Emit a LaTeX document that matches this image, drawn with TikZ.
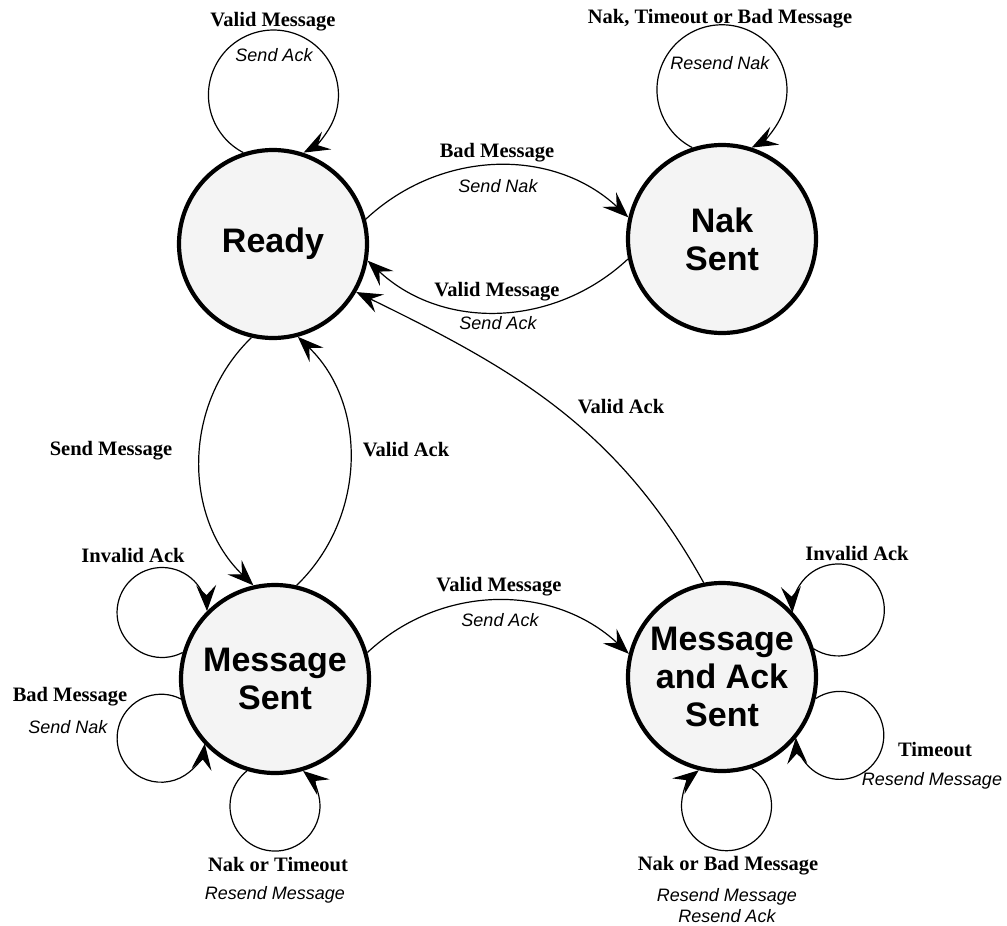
\documentclass[tikz,border=0pt]{standalone}
\usepackage{fontspec}
\setmainfont{Liberation Serif}
\setsansfont{Liberation Sans}
\usetikzlibrary{arrows.meta}
\tikzset{
  state/.style={circle, draw=black, line width=4.2pt, fill=gray!9, minimum size=188pt,
    inner sep=0pt, align=center, font=\sffamily\bfseries\fontsize{34}{38}\selectfont},
  edge/.style={draw=black, line width=1.2pt},
  tipped/.style={-{Stealth[length=26pt,width=20pt,inset=10pt]}},
  lbl/.style={font=\rmfamily\bfseries\fontsize{20.5}{23}\selectfont, inner sep=0pt},
  act/.style={font=\sffamily\itshape\fontsize{18}{21}\selectfont, inner sep=0pt, align=center}
}
\begin{document}
\begin{tikzpicture}[x=1pt,y=1pt]
\useasboundingbox (0,0) rectangle (1007,-926);
\fill[white] (0,0) rectangle (1007,-926);

% states
\node[state] (ready) at (273,-244) {Ready};
\node[state] (nak) at (722,-239) {Nak\\Sent};
\node[state] (ms) at (275,-679) {Message\\Sent};
\node[state] (mas) at (722,-677) {Message\\and Ack\\Sent};

% self loops
\draw[edge,tipped] (ready.108.3) arc[start angle=242.37, end angle=-62.37, radius=65pt];
\draw[edge,tipped] (nak.108) arc[start angle=242.84, end angle=-62.84, radius=65pt];
\draw[edge,tipped] (ms.164) arc[start angle=297.21, end angle=1.79, radius=45pt];
\draw[edge,tipped] (ms.192.7) arc[start angle=63.14, end angle=352.86, radius=44pt];
\draw[edge,tipped] (ms.253) arc[start angle=128.6, end angle=411.4, radius=45pt];
\draw[edge,tipped] (mas.17.9) arc[start angle=-122.1, end angle=183.3, radius=46pt];
\draw[edge,tipped] (mas.-13.6) arc[start angle=123.32, end angle=-176.92, radius=44pt];
\draw[edge,tipped] (mas.288) arc[start angle=415.99, end angle=128.01, radius=45pt];

% transitions between states
\draw[edge,tipped] (ready.15) to[out=43,in=137] (nak.167);
\draw[edge,tipped] (nak.192) to[out=223,in=-43] (ready.-10);
\draw[edge,tipped] (ms.16) to[out=43,in=137] (mas.166);
\draw[edge,tipped] (ready.257) to[out=224,in=136] (ms.103);
\draw[edge,tipped] (ms.77) to[out=44,in=-44] (ready.-75);
\draw[edge,tipped] (mas.101) to[out=119,in=-26] (ready.-30);

% labels
\node[lbl] (l1) at (273,-22) {Valid Message};
\node[act] (a1) at (274,-55) {Send Ack};
\node[lbl] (l2) at (720,-19) {Nak, Timeout or Bad Message};
\node[act] (a2) at (720,-63) {Resend Nak};
\node[lbl] (l3) at (497,-153) {Bad Message};
\node[act] (a3) at (498,-186) {Send Nak};
\node[lbl] (l4) at (497,-292) {Valid Message};
\node[act] (a4) at (498,-323) {Send Ack};
\node[lbl] (l5) at (111,-451) {Send Message};
\node[lbl] (l6) at (406,-450) {Valid Ack};
\node[lbl] (l7) at (621,-407) {Valid Ack};
\node[lbl] (l8) at (133,-555) {Invalid Ack};
\node[lbl] (l9) at (70,-697) {Bad Message};
\node[act] (a9) at (68,-727) {Send Nak};
\node[lbl] (l10) at (499,-587) {Valid Message};
\node[act] (a10) at (500,-620) {Send Ack};
\node[lbl] (l11) at (857,-553) {Invalid Ack};
\node[lbl] (l12) at (935,-750) {Timeout};
\node[act] (a12) at (932,-781) {Resend Message};
\node[lbl] (l13) at (278,-865) {Nak or Timeout};
\node[act] (a13) at (275,-895) {Resend Message};
\node[lbl] (l14) at (728,-866) {Nak or Bad Message};
\node[act] (a14) at (727,-906) {Resend Message\\Resend Ack};
\end{tikzpicture}
\end{document}
